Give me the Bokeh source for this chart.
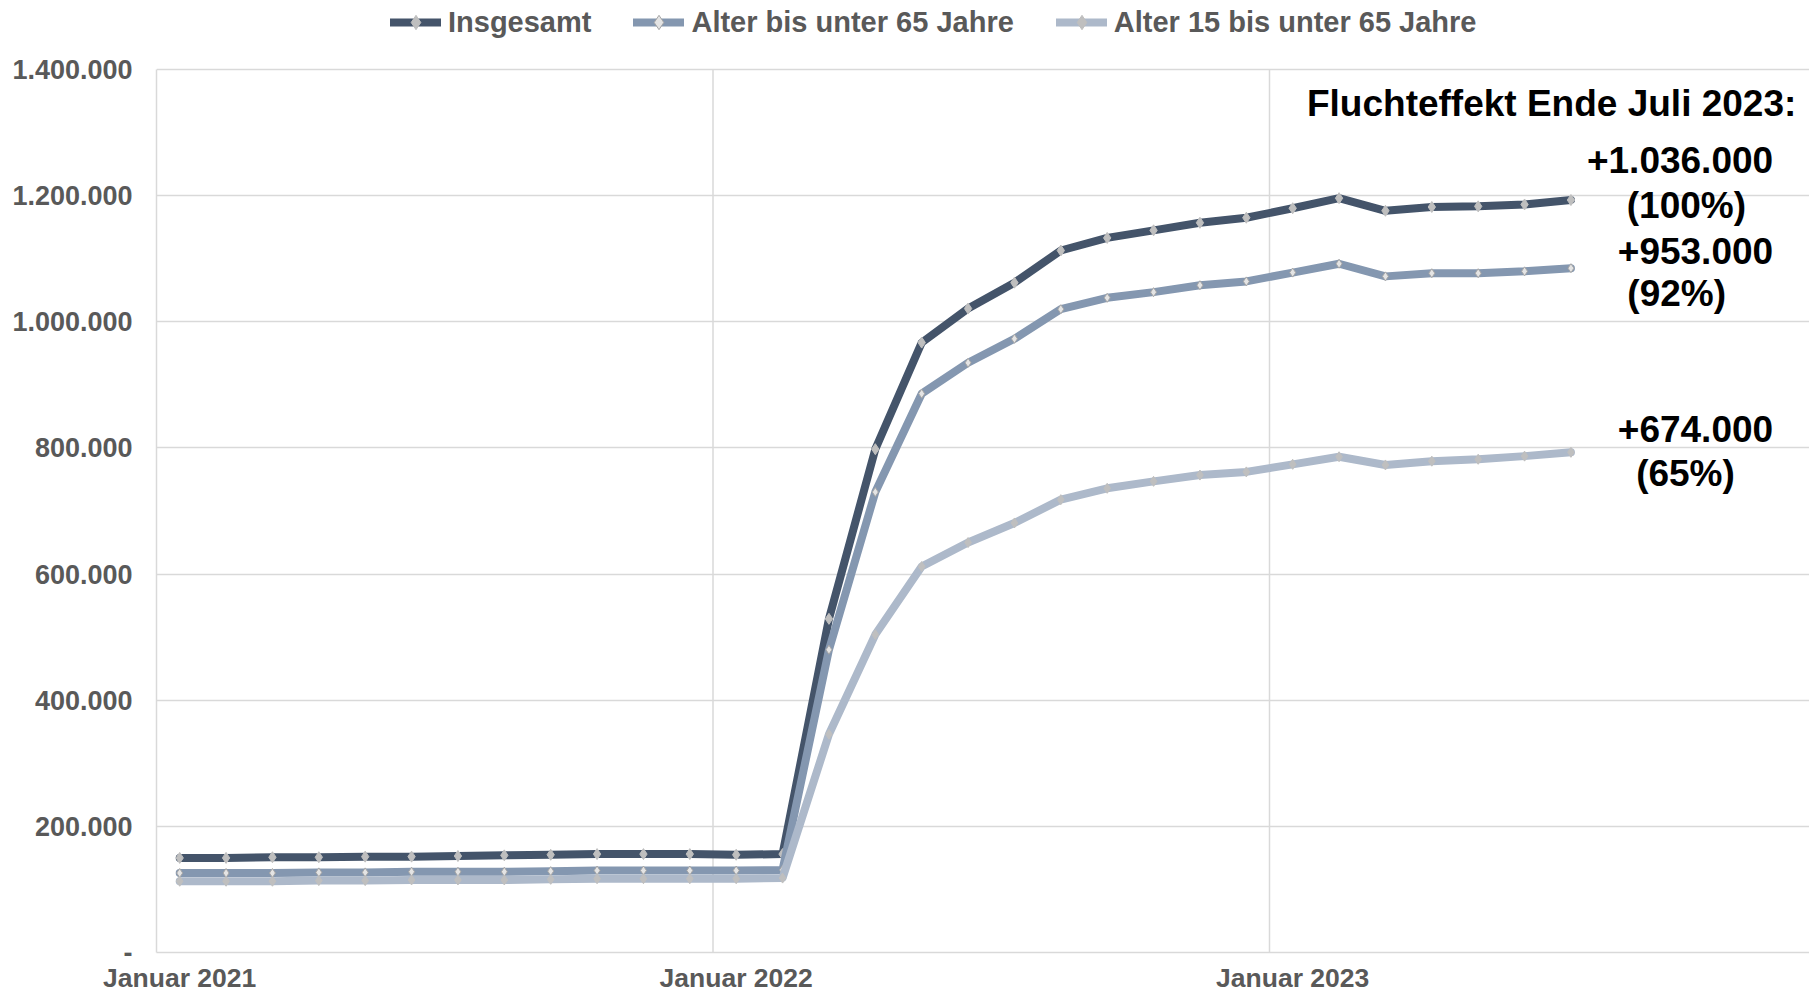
from bokeh.plotting import figure
from bokeh.models import Range1d, FixedTicker, Legend, LegendItem, Label
from bokeh.embed import file_html
from bokeh.resources import INLINE

# ---------------- data ----------------
months = ["2021-01", "2021-02", "2021-03", "2021-04", "2021-05", "2021-06",
          "2021-07", "2021-08", "2021-09", "2021-10", "2021-11", "2021-12",
          "2022-01", "2022-02", "2022-03", "2022-04", "2022-05", "2022-06",
          "2022-07", "2022-08", "2022-09", "2022-10", "2022-11", "2022-12",
          "2023-01", "2023-02", "2023-03", "2023-04", "2023-05", "2023-06",
          "2023-07"]

insgesamt = [150000, 150000, 151000, 151000, 152000, 152000, 153000, 154000,
             155000, 156000, 156000, 156000, 155000, 156000,
             529000, 798000, 967000, 1021000, 1062000, 1113000, 1133000,
             1145000, 1157000, 1165000, 1180000, 1196000, 1176000, 1182000,
             1183000, 1186000, 1193000]

bis_unter_65 = [126000, 126000, 126000, 127000, 127000, 128000, 128000, 128000,
                129000, 130000, 130000, 130000, 130000, 131000,
                480000, 730000, 886000, 935000, 973000, 1020000, 1038000,
                1047000, 1058000, 1064000, 1078000, 1092000, 1072000, 1077000,
                1077000, 1080000, 1085000]

von15_bis_unter_65 = [113000, 113000, 113000, 114000, 114000, 115000, 115000,
                      115000, 116000, 117000, 117000, 117000, 117000, 118000,
                      346000, 504000, 612000, 650000, 681000, 718000, 736000,
                      747000, 757000, 762000, 774000, 786000, 773000, 779000,
                      782000, 787000, 793000]

series_names = ["Insgesamt", "Alter bis unter 65 Jahre", "Alter 15 bis unter 65 Jahre"]

y_tick_values = [0, 200000, 400000, 600000, 800000, 1000000, 1200000, 1400000]
y_tick_labels = ["-", "200.000", "400.000", "600.000", "800.000",
                 "1.000.000", "1.200.000", "1.400.000"]

x_tick_months = ["2021-01", "2022-01", "2023-01"]
x_tick_labels = ["Januar 2021", "Januar 2022", "Januar 2023"]

annotation_title = "Fluchteffekt Ende Juli 2023:"
effect_numbers = ["+1.036.000", "+953.000", "+674.000"]
effect_shares = ["(100%)", "(92%)", "(65%)"]

# ---------------- layout / style ----------------
FONT = "Liberation Sans"
GRID = "#D9D9D9"
TICK_TXT = "#595959"
colors = ["#44546A", "#8497B0", "#ADB9CA"]
marker_fill = ["#BFBFBF", "#E4E4E4", "#BFBFBF"]
marker_line = ["#BFBFBF", "#A6A6A6", "#BFBFBF"]
marker_size = [11, 9, 10]

W, H = 1809, 996
FRAME_LEFT, FRAME_BOTTOM_PX, PLOT_TOP_PX = 156, 952, 69
y_max = max(y_tick_values)
# the frame reaches the top of the canvas (legend lives inside it);
# the value axis itself spans 0 .. y_max
y_top = y_max * FRAME_BOTTOM_PX / (FRAME_BOTTOM_PX - PLOT_TOP_PX)
x_end = (W - FRAME_LEFT) / 46.375

# month categories -> continuous positions (centre of each month slot)
x = [months.index(m) + 0.5 for m in months]

p = figure(width=W, height=H, output_backend="svg", toolbar_location=None,
           x_range=Range1d(0, x_end), y_range=Range1d(0, y_top),
           min_border_left=FRAME_LEFT, min_border_right=0, min_border_top=0,
           min_border_bottom=H - FRAME_BOTTOM_PX)
p.outline_line_color = None
p.background_fill_color = "white"
p.border_fill_color = "white"

# axes
p.yaxis.ticker = FixedTicker(ticks=y_tick_values)
p.yaxis.major_label_overrides = dict(zip(y_tick_values, y_tick_labels))
p.yaxis.bounds = (0, y_max)
p.xaxis.ticker = FixedTicker(ticks=[months.index(m) + 0.5 for m in x_tick_months])
p.xaxis.major_label_overrides = {months.index(m) + 0.5: lab
                                 for m, lab in zip(x_tick_months, x_tick_labels)}
for ax in (p.xaxis[0], p.yaxis[0]):
    ax.major_tick_in = 0
    ax.major_tick_out = 0
    ax.minor_tick_in = 0
    ax.minor_tick_out = 0
    ax.axis_line_color = GRID
    ax.axis_line_width = 1.5
    ax.major_label_text_font = FONT
    ax.major_label_text_font_style = "bold"
    ax.major_label_text_color = TICK_TXT
p.yaxis.major_label_text_font_size = "27px"
p.xaxis.major_label_text_font_size = "26.5px"
p.yaxis.major_label_standoff = 24
p.xaxis.major_label_standoff = 10

# grids: horizontal at y ticks, vertical at year boundaries (0 .. y_max only)
p.ygrid.grid_line_color = GRID
p.ygrid.grid_line_width = 1.5
p.xgrid.visible = False
year_bounds = [months.index(m) for m in x_tick_months[1:]]
p.segment(x0=year_bounds, y0=[0] * len(year_bounds), x1=year_bounds,
          y1=[y_max] * len(year_bounds), line_color=GRID, line_width=1.5,
          level="underlay")

# series
items = []
for name, vals, col, mf, ml, ms in zip(series_names,
                                       [insgesamt, bis_unter_65, von15_bis_unter_65],
                                       colors, marker_fill, marker_line, marker_size):
    ln = p.line(x, vals, line_color=col, line_width=8,
                line_cap="round", line_join="round")
    sc = p.scatter(x, vals, marker="diamond", size=ms,
                   fill_color=mf, line_color=ml, line_width=1)
    items.append(LegendItem(label=name, renderers=[ln, sc]))

legend = Legend(items=items, orientation="horizontal", location=(234, 912),
                glyph_width=51, glyph_height=36, label_height=36,
                label_standoff=7, spacing=42, padding=0, margin=0,
                border_line_color=None, background_fill_alpha=0,
                label_text_font=FONT, label_text_font_style="bold",
                label_text_font_size="29px", label_text_color=TICK_TXT)
p.add_layout(legend)

# annotations (positions in data space)
def lab(xv, yv, text, align):
    p.add_layout(Label(x=xv, y=yv, text=text, text_align=align,
                       text_baseline="alphabetic", text_font=FONT,
                       text_font_style="bold", text_font_size="37px",
                       text_color="black"))

lab(35.36, 1345900, annotation_title, "right")
num_pos = [1256600, 1112300, 830000]
share_pos = [(32.99, 1184500), (32.78, 1045200), (32.97, 760000)]
for t, yv in zip(effect_numbers, num_pos):
    lab(34.86, yv, t, "right")
for t, (xv, yv) in zip(effect_shares, share_pos):
    lab(xv, yv, t, "center")

open("out.html", "w").write(file_html(p, INLINE))
